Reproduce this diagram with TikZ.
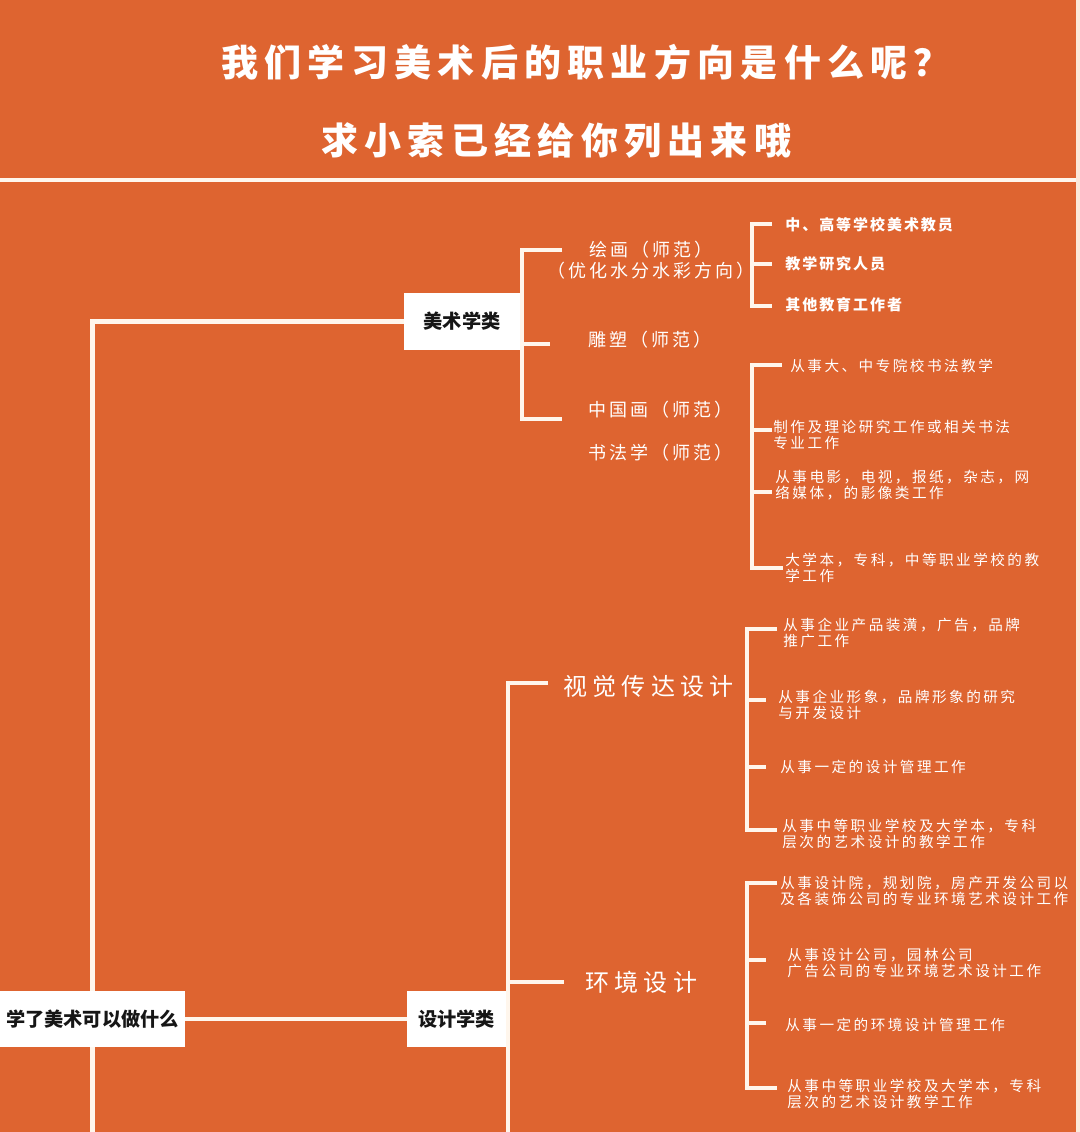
\documentclass[tikz,border=0pt]{standalone}
\usepackage{fontspec}
\usepackage{xcolor}
\usepackage{tikz}
\usetikzlibrary{positioning}
\newfontfamily\cjk{Noto Sans CJK SC}
\definecolor{ground}{HTML}{DE6430}
\definecolor{rim}{HTML}{FBE9DA}
\definecolor{chalk}{HTML}{FFF6EC}
\definecolor{paper}{HTML}{FFFFFF}
\definecolor{ink}{HTML}{161616}
\tikzset{
  link/.style     = {draw=chalk, line width=2.2pt, line join=miter},
  box/.style      = {fill=paper, inner sep=0pt, text=ink, font=\cjk\bfseries\fontsize{9.6}{11}\selectfont},
  headline/.style = {font=\cjk\bfseries\fontsize{18.5}{22}\selectfont\addfontfeature{LetterSpace=17}, text=white, anchor=west, inner sep=0pt},
  major/.style    = {font=\cjk\fontsize{12}{14}\selectfont\addfontfeature{LetterSpace=22}, text=white, anchor=west, inner sep=0pt},
  minor/.style    = {font=\cjk\fontsize{9}{10.5}\selectfont\addfontfeature{LetterSpace=17}, text=white, inner sep=0pt},
  jobb/.style     = {font=\cjk\bfseries\fontsize{7.5}{9}\selectfont\addfontfeature{LetterSpace=13}, text=white, anchor=west, inner sep=0pt},
  job/.style      = {font=\cjk\fontsize{7.3}{8.2}\selectfont\addfontfeature{LetterSpace=17}, text=white, anchor=west, align=left, inner sep=0pt},
}
\begin{document}
\begin{tikzpicture}[x=0.5pt,y=-0.5pt]
\useasboundingbox (0,0) rectangle (1080,1132);
\fill[ground] (0,0) rectangle (1076,1132);
\fill[rim] (1076,0) rectangle (1080,1132);

% ---------- heading -----------------------------------------------------
\node[headline] (title1) at (221,62)  {我们学习美术后的职业方向是什么呢？};
\node[headline] (title2) at (321,140) {求小索已经给你列出来哦};
\coordinate (ruleL) at (0,180);
\coordinate (ruleR) at (1076,180);
\draw[link, line width=2pt] (ruleL) -- (ruleR);

% ---------- trunk -------------------------------------------------------
\node[box, minimum width=92.5pt, minimum height=28pt]   (root)   at (92.5,1019) {学了美术可以做什么};
\node[box, minimum width=58pt,   minimum height=28.5pt] (fine)   at (462,321.5) {美术学类};
\node[box, minimum width=49.5pt, minimum height=28pt]   (design) at (456.5,1019) {设计学类};
\coordinate (rootend) at (92.5,1132);

\draw[link] (fine.west) -| (root.north);
\draw[link] (root.south) -- (rootend);
\draw[link] (root.east) -- (design.west);

% ---------- fine art branch --------------------------------------------
\coordinate (fa)  at (522,250);
\coordinate (fm)  at (522,344);
\coordinate (fb)  at (522,419);
\coordinate (fa2) at (562,250);
\coordinate (fm2) at (550,344);
\coordinate (fb2) at (562,419);
\draw[link] (fa2) -- (fa) -- (fb) -- (fb2);
\draw[link] (fm) -- (fm2);

\node[minor, align=center] (paint) at (651,260) {绘画（师范）\\（优化水分水彩方向）};
\node[minor, anchor=west] (sculpt)  at (588,340) {雕塑（师范）};
\node[minor, anchor=west] (guohua)  at (588,410) {中国画（师范）};
\node[minor, anchor=west] (shufa)   at (588,453) {书法学（师范）};

% teaching bracket
\coordinate (ta)  at (752,224);
\coordinate (tm)  at (752,264);
\coordinate (tb)  at (752,306);
\coordinate (ta2) at (772,224);
\coordinate (tm2) at (772,264);
\coordinate (tb2) at (772,306);
\draw[link] (ta2) -- (ta) -- (tb) -- (tb2);
\draw[link] (tm) -- (tm2);
\node[jobb] (teach1) at (785,225) {中、高等学校美术教员};
\node[jobb] (teach2) at (785,264) {教学研究人员};
\node[jobb] (teach3) at (785,305) {其他教育工作者};

% calligraphy bracket
\coordinate (ca)  at (752,365);
\coordinate (cb)  at (752,568);
\coordinate (ca2) at (782,365);
\coordinate (cb2) at (783,568);
\draw[link] (ca2) -- (ca) -- (cb) -- (cb2);
\foreach \y in {430,492}{
  \coordinate (cm) at (752,\y);
  \coordinate (cm2) at (772,\y);
  \draw[link] (cm) -- (cm2);
}
\node[job] (call1) at (790,366) {从事大、中专院校书法教学};
\node[job] (call2) at (773,435) {制作及理论研究工作或相关书法\\专业工作};
\node[job] (call3) at (775,485) {从事电影，电视，报纸，杂志，网\\络媒体，的影像类工作};
\node[job] (call4) at (785,568) {大学本，专科，中等职业学校的教\\学工作};

% ---------- design branch ----------------------------------------------
\coordinate (da)  at (508,683);
\coordinate (dm)  at (508,982);
\coordinate (db)  at (508,1132);
\coordinate (da2) at (548,683);
\coordinate (dm2) at (564,982);
\draw[link] (da2) -- (da) -- (db);
\draw[link] (dm) -- (dm2);

\node[major] (visual) at (563,686) {视觉传达设计};
\node[major] (enviro) at (585,982) {环境设计};

% visual communication bracket
\coordinate (va)  at (747,629);
\coordinate (vb)  at (747,830);
\coordinate (va2) at (777,629);
\coordinate (vb2) at (777,830);
\draw[link] (va2) -- (va) -- (vb) -- (vb2);
\foreach \y in {700,767}{
  \coordinate (vm) at (747,\y);
  \coordinate (vm2) at (766,\y);
  \draw[link] (vm) -- (vm2);
}
\node[job] (vis1) at (783,633) {从事企业产品装潢，广告，品牌\\推广工作};
\node[job] (vis2) at (778,705) {从事企业形象，品牌形象的研究\\与开发设计};
\node[job] (vis3) at (780,767) {从事一定的设计管理工作};
\node[job] (vis4) at (782,834) {从事中等职业学校及大学本，专科\\层次的艺术设计的教学工作};

% environment bracket
\coordinate (ea)  at (747,883);
\coordinate (eb)  at (747,1088);
\coordinate (ea2) at (777,883);
\coordinate (eb2) at (777,1088);
\draw[link] (ea2) -- (ea) -- (eb) -- (eb2);
\foreach \y in {960,1023}{
  \coordinate (em) at (747,\y);
  \coordinate (em2) at (766,\y);
  \draw[link] (em) -- (em2);
}
\node[job] (env1) at (780,891)  {从事设计院，规划院，房产开发公司以\\及各装饰公司的专业环境艺术设计工作};
\node[job] (env2) at (787,963)  {从事设计公司，园林公司\\广告公司的专业环境艺术设计工作};
\node[job] (env3) at (785,1025) {从事一定的环境设计管理工作};
\node[job] (env4) at (787,1094) {从事中等职业学校及大学本，专科\\层次的艺术设计教学工作};

\end{tikzpicture}
\end{document}
